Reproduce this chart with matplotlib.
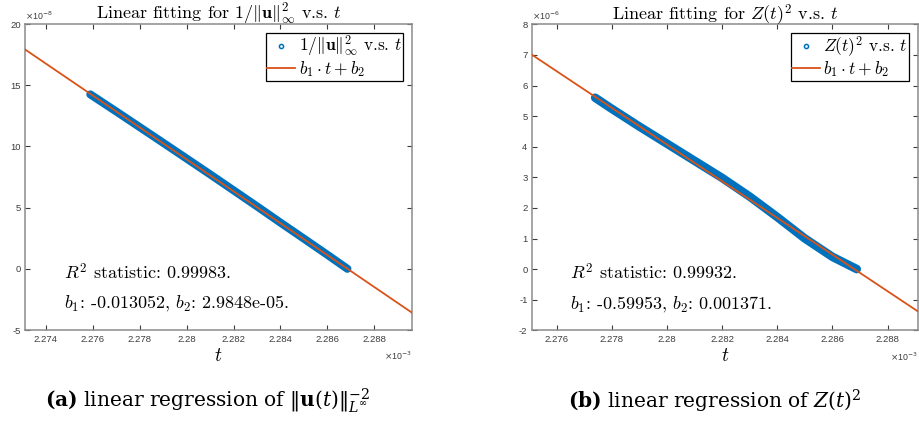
import matplotlib
matplotlib.use("Agg")
import matplotlib.pyplot as plt
from matplotlib.lines import Line2D

# ---------------- data ----------------
# panel (a): 1/||u||_inf^2 vs t   (t in units of 1e-3, values in units of 1e-8)
t_a = [2.2759, 2.2770, 2.2780, 2.2790, 2.2800, 2.2810, 2.2820, 2.2830,
       2.2840, 2.2850, 2.2860, 2.28685]
v_a = [14.25, 12.86, 11.58, 10.30, 9.01, 7.72, 6.41, 5.10,
       3.77, 2.46, 1.14, 0.00]
b1_a, b2_a, r2_a = -0.013052, 2.9848e-05, 0.99983

# panel (b): Z(t)^2 vs t   (t in units of 1e-3, values in units of 1e-6)
t_b = [2.2774, 2.2780, 2.2790, 2.2800, 2.2810, 2.2820, 2.2830, 2.2840,
       2.2850, 2.2860, 2.28688]
v_b = [5.60, 5.24, 4.66, 4.10, 3.54, 2.98, 2.37, 1.70,
       1.00, 0.40, 0.00]
b1_b, b2_b, r2_b = -0.59953, 0.001371, 0.99932

xticks_a = [2.274, 2.276, 2.278, 2.280, 2.282, 2.284, 2.286, 2.288]
xlabels_a = ["2.274", "2.276", "2.278", "2.28", "2.282", "2.284", "2.286", "2.288"]
yticks_a = [-5, 0, 5, 10, 15, 20]
xticks_b = [2.276, 2.278, 2.280, 2.282, 2.284, 2.286, 2.288]
xlabels_b = ["2.276", "2.278", "2.28", "2.282", "2.284", "2.286", "2.288"]
yticks_b = [-2, -1, 0, 1, 2, 3, 4, 5, 6, 7, 8]

BLUE = "#0072BD"
ORANGE = "#D95319"
SPINE = "#8c8c8c"
TICKC = "#3c3c3c"

plt.rcParams["mathtext.fontset"] = "cm"
plt.rcParams["axes.unicode_minus"] = False

fig = plt.figure(figsize=(9.19, 4.25), dpi=100)
W, H = 919.0, 425.0


def make_panel(rect, t, v, b1, b2, r2, tscale, vscale, xlim, ylim,
               xticks, xlabels, yticks, yexp, title, leglabel, caption,
               caption_x, band_lw):
    ax = fig.add_axes(rect)
    ax.set_xlim(*xlim)
    ax.set_ylim(*ylim)
    # data band
    ax.plot(t, v, color=BLUE, lw=band_lw, solid_capstyle="round",
            solid_joinstyle="round", zorder=2)
    # fitted line b1*t + b2 over the axis range
    xs = [xlim[0], xlim[1]]
    ys = [(b1 * (x * tscale) + b2) / vscale for x in xs]
    ax.plot(xs, ys, color=ORANGE, lw=1.3, zorder=3)

    ax.set_xticks(xticks)
    ax.set_xticklabels(xlabels)
    ax.set_yticks(yticks)
    ax.tick_params(direction="in", length=3.5, width=0.8, color=TICKC,
                   top=True, right=True, labelsize=6.8, labelcolor=TICKC)
    ax.tick_params(axis="x", pad=3.5)
    ax.tick_params(axis="y", pad=3)
    for lab in ax.get_xticklabels() + ax.get_yticklabels():
        lab.set_fontfamily("Liberation Sans")
    for s in ax.spines.values():
        s.set_color(SPINE)
        s.set_linewidth(1.1)

    ax.set_title(title, fontfamily="cmr10", fontsize=13, pad=3)
    ax.set_xlabel("$t$", fontsize=14, labelpad=1.5)

    # exponent labels
    ax.text(0.0, 1.008, r"$\times$10$^{%d}$" % yexp, transform=ax.transAxes,
            fontsize=6.3, color=TICKC, ha="left", va="bottom",
            fontfamily="Liberation Sans", math_fontfamily="dejavusans")
    ax.text(1.0, -0.065, r"$\times$10$^{-3}$", transform=ax.transAxes,
            fontsize=6.3, color=TICKC, ha="right", va="top",
            fontfamily="Liberation Sans", math_fontfamily="dejavusans")

    handles = [Line2D([], [], marker="o", ls="none", mfc="none", mec=BLUE,
                      ms=3, mew=1.1),
               Line2D([], [], color=ORANGE, lw=1.3)]
    leg = ax.legend(handles, [leglabel, r"$b_1\cdot t+b_2$"], loc="upper right",
                    prop={"family": "cmr10", "size": 12.5}, fancybox=False,
                    framealpha=1, edgecolor="black", borderpad=0.08,
                    handlelength=1.6, handletextpad=0.2, labelspacing=0.0,
                    borderaxespad=0.5)
    leg.get_frame().set_linewidth(0.9)

    ax.text(0.10, 0.189, "$R^2$ statistic: %.5f." % r2, transform=ax.transAxes,
            fontfamily="cmr10", fontsize=13, va="center", ha="left")
    b2s = ("%.4e" % b2) if abs(b2) < 1e-4 else ("%g" % b2)
    ax.text(0.10, 0.087, "$b_1$: %g, $b_2$: %s." % (b1, b2s),
            transform=ax.transAxes, fontfamily="cmr10", fontsize=13,
            va="center", ha="left")

    fig.text(caption_x, 1 - 401 / H, caption, fontfamily="DejaVu Serif",
             math_fontfamily="dejavuserif", fontsize=14.5, ha="center",
             va="center")
    return ax


make_panel([25 / W, 1 - 330 / H, 387 / W, 306 / H], t_a, v_a, b1_a, b2_a, r2_a,
           1e-3, 1e-8, (2.27312, 2.2896), (-5, 20), xticks_a, xlabels_a,
           yticks_a, -8,
           r"Linear fitting for $1/\Vert\mathbf{u}\Vert_\infty^2$ v.s. $t$",
           r"$1/\Vert\mathbf{u}\Vert_\infty^2$ v.s. $t$",
           r"$\mathbf{(a)}$ linear regression of $\Vert\mathbf{u}(t)\Vert_{L^{\infty}}^{-2}$",
           207.5 / W, 5.8)

make_panel([531.7 / W, 1 - 330.3 / H, 386.3 / W, 306 / H], t_b, v_b, b1_b, b2_b,
           r2_b, 1e-3, 1e-6, (2.2751, 2.2891), (-2, 8), xticks_b, xlabels_b,
           yticks_b, -6,
           r"Linear fitting for $Z(t)^2$ v.s. $t$",
           r"$Z(t)^2$ v.s. $t$",
           r"$\mathbf{(b)}$ linear regression of $Z(t)^2$",
           715 / W, 6.2)

fig.savefig("out.png", dpi=100)
